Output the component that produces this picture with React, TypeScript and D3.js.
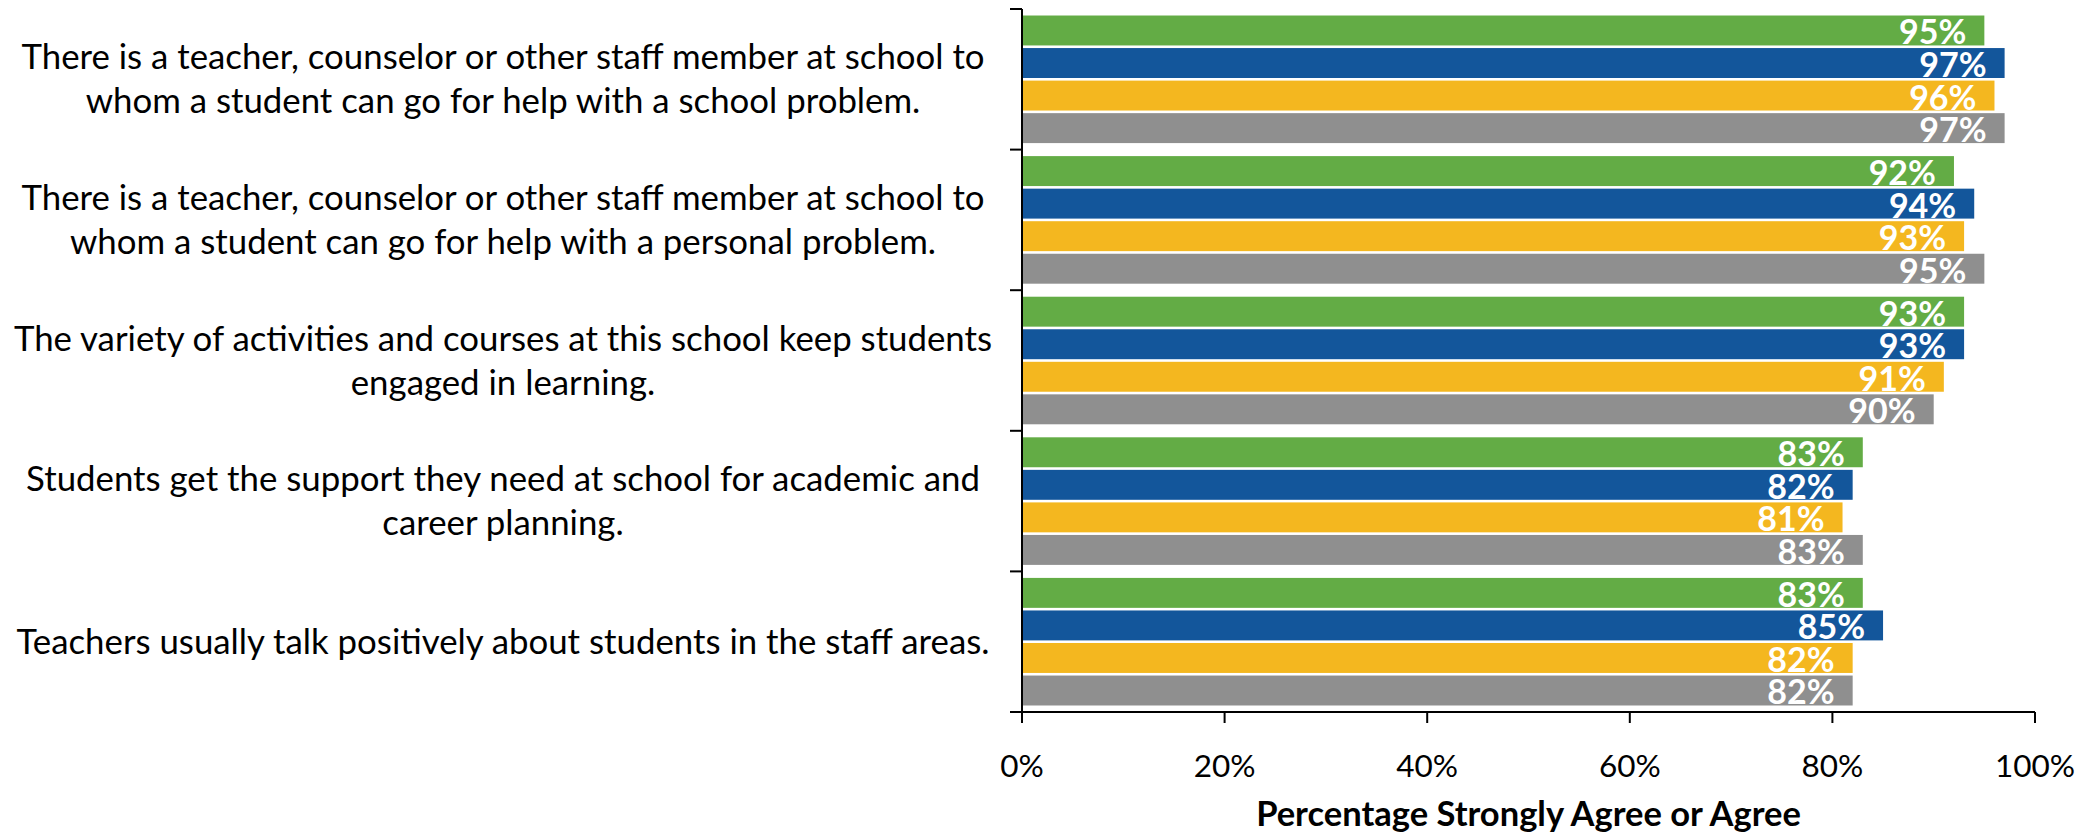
import { scaleBand, scaleLinear } from "d3";

// survey statements, already split into the two lines the chart wraps them in
const statements: string[][] = [
  ["There is a teacher, counselor or other staff member at school to", "whom a student can go for help with a school problem."],
  ["There is a teacher, counselor or other staff member at school to", "whom a student can go for help with a personal problem."],
  ["The variety of activities and courses at this school keep students", "engaged in learning."],
  ["Students get the support they need at school for academic and", "career planning."],
  ["Teachers usually talk positively about students in the staff areas."],
];

const seriesNames = ["Series 1", "Series 2", "Series 3", "Series 4"];
const seriesColors = ["#63ac45", "#13569b", "#f4b71f", "#8f8f8f"];

const series1 = [95, 92, 93, 83, 83];
const series2 = [97, 94, 93, 82, 85];
const series3 = [96, 93, 91, 81, 82];
const series4 = [97, 95, 90, 83, 82];
const allSeries = [series1, series2, series3, series4];

const xTicks = [0, 20, 40, 60, 80, 100];
const xTitle = "Percentage Strongly Agree or Agree";

const W = 2092;
const H = 835;
const left = 1022;
const right = 2035;
const top = 9;
const bottom = 712;

export default function App() {
  const x = scaleLinear().domain([0, 100]).range([left, right]);
  const y = scaleBand<number>()
    .domain(statements.map((_, i) => i))
    .range([top, bottom]);
  const inner = scaleBand<string>()
    .domain(seriesNames)
    .range([0, y.bandwidth()])
    .paddingInner(0.08)
    .paddingOuter(0.2);

  const labelX = 503;

  return (
    <svg
      width={W}
      height={H}
      style={{ position: "absolute", left: 0, top: 0, background: "#fff" }}
      fontFamily="Lato, 'Open Sans', sans-serif"
    >
      {/* bars */}
      {statements.map((_, ci) => (
        <g key={ci} transform={`translate(0,${y(ci)})`}>
          {seriesNames.map((name, si) => {
            const v = allSeries[si][ci];
            const by = inner(name) ?? 0;
            return (
              <g key={name}>
                <rect
                  x={x(0)}
                  y={by}
                  width={x(v) - x(0)}
                  height={inner.bandwidth()}
                  fill={seriesColors[si]}
                />
                <text
                  x={x(v) - 18}
                  y={by + inner.bandwidth() - 1}
                  textAnchor="end"
                  fill="#fff"
                  fontWeight="bold"
                  fontSize={34}
                >
                  {v}%
                </text>
              </g>
            );
          })}
        </g>
      ))}

      {/* category labels */}
      {statements.map((lines, ci) => {
        const cy = (y(ci) ?? 0) + y.bandwidth() / 2;
        const lh = 44;
        const y0 = cy - ((lines.length - 1) * lh) / 2;
        return (
          <text
            key={ci}
            x={labelX}
            textAnchor="middle"
            fontSize={34.8}
            fill="#000"
          >
            {lines.map((l, li) => (
              <tspan key={li} x={labelX} y={y0 + li * lh} dy="0.35em">
                {l}
              </tspan>
            ))}
          </text>
        );
      })}

      {/* y axis */}
      <line x1={left} x2={left} y1={top} y2={bottom} stroke="#000" strokeWidth={2} />
      {[...statements.map((_, i) => y(i) ?? 0), bottom].map((ty, i) => (
        <line key={i} x1={left - 12} x2={left} y1={ty} y2={ty} stroke="#000" strokeWidth={2} />
      ))}

      {/* x axis */}
      <line x1={left} x2={right} y1={bottom} y2={bottom} stroke="#000" strokeWidth={2} />
      {xTicks.map((t) => (
        <g key={t} transform={`translate(${x(t)},${bottom})`}>
          <line y1={0} y2={11} stroke="#000" strokeWidth={2} />
          <text y={54} dy="0.35em" textAnchor="middle" fontSize={31.5} fill="#000">
            {t}%
          </text>
        </g>
      ))}
      <text
        x={(left + right) / 2}
        y={814}
        dy="0.35em"
        textAnchor="middle"
        fontSize={34.5}
        fontWeight="bold"
        fill="#000"
      >
        {xTitle}
      </text>
    </svg>
  );
}
